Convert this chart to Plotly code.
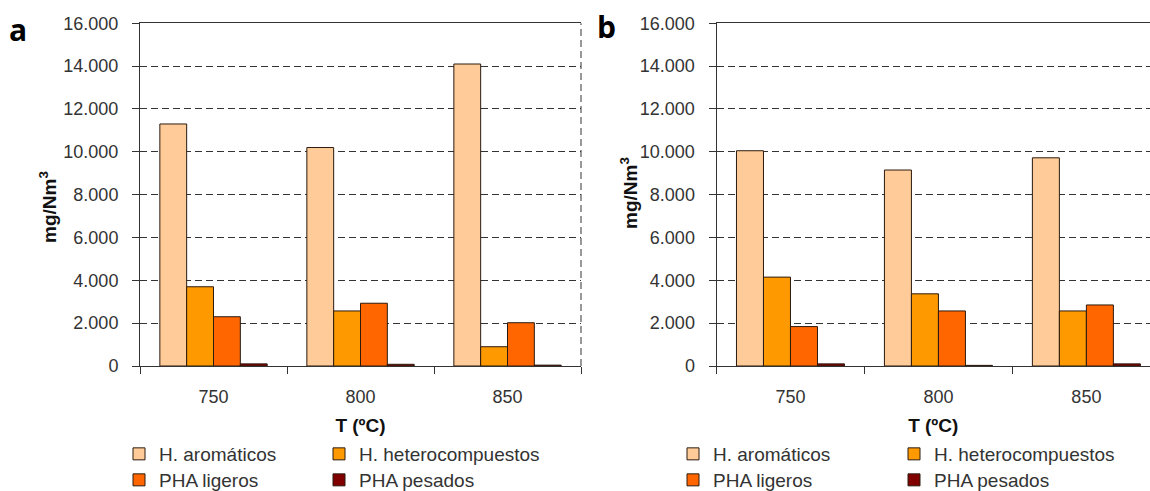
import plotly.graph_objects as go

# ---------------- data ----------------
temps = ["750", "800", "850"]
series_names = ["H. aromáticos", "H. heterocompuestos", "PHA ligeros", "PHA pesados"]

a_aromaticos = [11300, 10200, 14100]
a_hetero = [3700, 2570, 900]
a_ligeros = [2300, 2930, 2020]
a_pesados = [100, 80, 40]

b_aromaticos = [10050, 9150, 9720]
b_hetero = [4150, 3370, 2570]
b_ligeros = [1840, 2570, 2850]
b_pesados = [100, 30, 100]

y_tick_vals = [0, 2000, 4000, 6000, 8000, 10000, 12000, 14000, 16000]
y_tick_text = ["0", "2.000", "4.000", "6.000", "8.000", "10.000", "12.000", "14.000", "16.000"]

panel_labels = ["a", "b"]
x_title = "T (ºC)"
y_title = "mg/Nm<sup>3</sup>"

# ---------------- style ----------------
W, H = 1150, 491
colors = ["#FFCC99", "#FF9900", "#FF6600", "#800000"]
edge = "#2b1a0e"
FONT = "Liberation Sans, Arial, sans-serif"
txt = "#333333"


def px(x):
    return x / W


def py(y):
    return (H - y) / H


fig = go.Figure()

panel_a = [a_aromaticos, a_hetero, a_ligeros, a_pesados]
panel_b = [b_aromaticos, b_hetero, b_ligeros, b_pesados]

# legend placement (text start x, row center y) for each entry
leg_pos_a = [(157, 454), (357, 454), (157, 480), (357, 480)]
leg_pos_b = [(711, 454), (932, 454), (711, 480), (932, 480)]

leg_common = dict(orientation="h", xanchor="left", yanchor="middle", xref="paper", yref="paper",
                  bgcolor="rgba(0,0,0,0)", tracegroupgap=0,
                  font=dict(family=FONT, size=19, color=txt), itemclick=False, itemdoubleclick=False)

legend_layout = {}
idx = 0
for panel, positions, xa, ya in [(panel_a, leg_pos_a, "x", "y"), (panel_b, leg_pos_b, "x2", "y2")]:
    for vals, name, col, (tx, ty) in zip(panel, series_names, colors, positions):
        idx += 1
        lg = "legend" if idx == 1 else "legend%d" % idx
        fig.add_trace(go.Bar(x=temps, y=vals, name=name,
                             marker=dict(color=col, line=dict(color=edge, width=1)),
                             xaxis=xa, yaxis=ya, legend=lg, hoverinfo="x+y+name"))
        legend_layout[lg] = dict(leg_common, x=px(tx - 38), y=py(ty))

fig.update_layout(**legend_layout)

y_dom = [py(366), py(23.3)]

common_x = dict(
    type="category", showline=True, linecolor=txt, linewidth=1, mirror=True,
    ticks="outside", tickson="boundaries", ticklen=7, tickcolor=txt,
    tickfont=dict(family=FONT, size=18, color=txt), ticklabelstandoff=14,
    showgrid=False, zeroline=False, automargin=False,
    title=dict(text="<b>" + x_title + "</b>", font=dict(family=FONT, size=19, color="#111"), standoff=13),
)
common_y = dict(
    range=[0, 16000], tickvals=y_tick_vals, ticktext=y_tick_text,
    showline=True, linecolor=txt, linewidth=1,
    ticks="outside", ticklen=7, tickcolor=txt,
    tickfont=dict(family=FONT, size=18, color=txt), ticklabelstandoff=10,
    showgrid=True, gridcolor="#333333", gridwidth=1, griddash="7px,4px",
    zeroline=False, automargin=False,
)

fig.update_layout(
    xaxis=dict(common_x, domain=[px(140), px(581)], range=[-0.5, 2.5], anchor="y"),
    yaxis=dict(common_y, domain=y_dom, anchor="x"),
    xaxis2=dict(common_x, domain=[px(716.5), 1.0], range=[-0.5, 2.43], anchor="y2"),
    yaxis2=dict(common_y, domain=y_dom, anchor="x2"),
)

# y-axis titles
fig.add_annotation(text="<b>" + y_title + "</b>", xref="paper", yref="paper", x=px(48), y=py(207),
                   xanchor="center", yanchor="middle", textangle=-90, showarrow=False,
                   font=dict(family=FONT, size=19, color="#111"))
fig.add_annotation(text="<b>" + y_title + "</b>", xref="paper", yref="paper", x=px(629), y=py(193),
                   xanchor="center", yanchor="middle", textangle=-90, showarrow=False,
                   font=dict(family=FONT, size=19, color="#111"))

# dashed right border of panel a
fig.add_shape(type="line", xref="x domain", yref="y domain", x0=1, x1=1, y0=0, y1=1,
              line=dict(color="#333333", width=1, dash="7px,4px"))

# panel letters
fig.add_annotation(text="<b>" + panel_labels[0] + "</b>", xref="paper", yref="paper", x=px(17.5), y=py(30),
                   xanchor="center", yanchor="middle", showarrow=False,
                   font=dict(family="Open Sans, sans-serif", size=30, color="#000"))
fig.add_annotation(text="<b>" + panel_labels[1] + "</b>", xref="paper", yref="paper", x=px(606), y=py(27),
                   xanchor="center", yanchor="middle", showarrow=False,
                   font=dict(family="Open Sans, sans-serif", size=30, color="#000"))

fig.update_layout(
    width=W, height=H, margin=dict(l=0, r=0, t=0, b=0, autoexpand=False),
    barmode="group", bargap=0.27, bargroupgap=0,
    paper_bgcolor="white", plot_bgcolor="white",
    showlegend=True,
)

fig.write_html("out.html")
